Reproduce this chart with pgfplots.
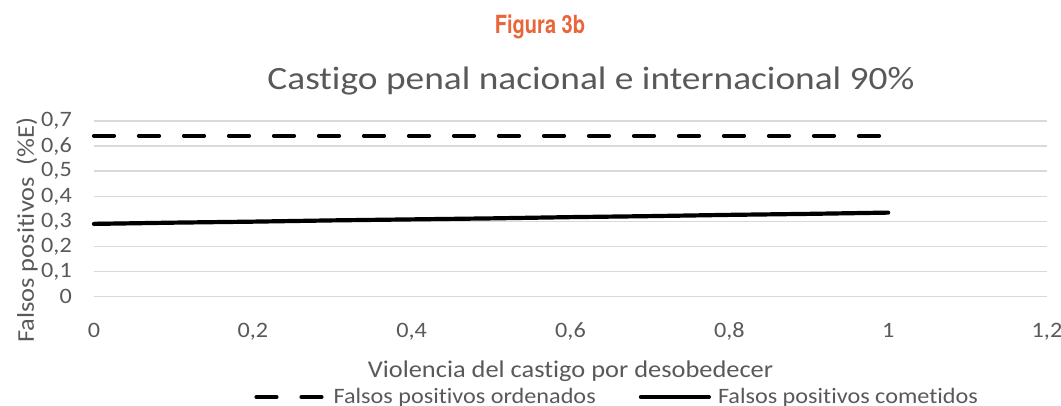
\documentclass[border=0pt]{standalone}
\usepackage{fontspec}
\setmainfont[FakeStretch=1.1, Ligatures=NoCommon]{Carlito}
\newfontfamily\titlefont[FakeStretch=1.15, Ligatures=NoCommon]{Carlito}
\newfontfamily\condfont[FakeStretch=0.8]{TeX Gyre Heros}
\usepackage{pgfplots}
\usepackage{pgfplotstable}
\pgfplotsset{compat=1.18}
\definecolor{txtgray}{RGB}{89,89,89}
\definecolor{gridgray}{RGB}{217,217,217}
\definecolor{figorange}{RGB}{233,101,58}

% Falsos positivos ordenados
\pgfplotstableread{
x y
0 0.641
1 0.641
}\ordenados
% Falsos positivos cometidos
\pgfplotstableread{
x y
0.0 0.290
0.1 0.295
0.2 0.299
0.3 0.304
0.4 0.308
0.5 0.312
0.6 0.317
0.7 0.321
0.8 0.326
0.9 0.330
1.0 0.335
}\cometidos

\begin{document}
\begin{tikzpicture}
\begin{axis}[
  at={(0pt,0pt)}, anchor=south west,
  scale only axis, width=953pt, height=175.7pt,
  xmin=0, xmax=1.2, ymin=0, ymax=0.7,
  xtick={0,0.2,0.4,0.6,0.8,1,1.2},
  ytick={0,0.1,0.2,0.3,0.4,0.5,0.6,0.7},
  axis line style={draw=none},
  major tick length=0pt,
  ymajorgrids,
  major grid style={gridgray, line width=1.5pt},
  clip=false,
  /pgf/number format/.cd, use comma, fixed, precision=1, assume math mode=true,
  /pgfplots/.cd,
  xticklabel style={font=\fontsize{22}{26}\selectfont, text=txtgray, inner sep=0pt, anchor=north, yshift=-26pt},
  yticklabel style={font=\fontsize{22}{26}\selectfont, text=txtgray, inner sep=0pt, anchor=east, xshift=-22pt},
  xlabel={Violencia del castigo por desobedecer},
  xlabel style={font=\fontsize{24}{28}\selectfont, text=txtgray, inner sep=0pt, anchor=center,
    at={(axis description cs:0.5,-0.423)}},
  ylabel={Falsos positivos\ \ (\%E)},
  ylabel style={font=\fontsize{24}{28}\selectfont, text=txtgray, inner sep=0pt, anchor=center,
    at={(axis description cs:-0.0703,0.38)}},
  title={Castigo penal nacional e internacional 90\%},
  title style={font=\titlefont\fontsize{32.5}{36}\selectfont, text=txtgray, inner sep=0pt, anchor=center,
    at={(axis description cs:0.5215,1.196)}},
  legend columns=2,
  legend style={draw=none, fill=none, font=\fontsize{22}{26}\selectfont, text=txtgray,
    at={(axis description cs:0.549,-0.571)}, anchor=center,
    /tikz/every even column/.append style={column sep=41pt}},
  legend image code/.code={\draw[#1] (0pt,0pt) -- (68pt,0pt); \path (73pt,0pt);},
]
\addplot[black, line width=4.2pt, line cap=round, dash pattern=on 20pt off 25pt] table {\ordenados};
\addlegendentry{Falsos positivos ordenados}
\addplot[black, line width=4.2pt, line cap=round] table {\cometidos};
\addlegendentry{Falsos positivos cometidos}
\end{axis}
\node[font=\condfont\bfseries\fontsize{25}{28}\selectfont, text=figorange, inner sep=0pt, anchor=base] at (446pt,262.7pt) {Figura 3b};
\pgfresetboundingbox
\useasboundingbox (-94pt,-109.3pt) rectangle (967pt,296.7pt);
\end{tikzpicture}
\end{document}
